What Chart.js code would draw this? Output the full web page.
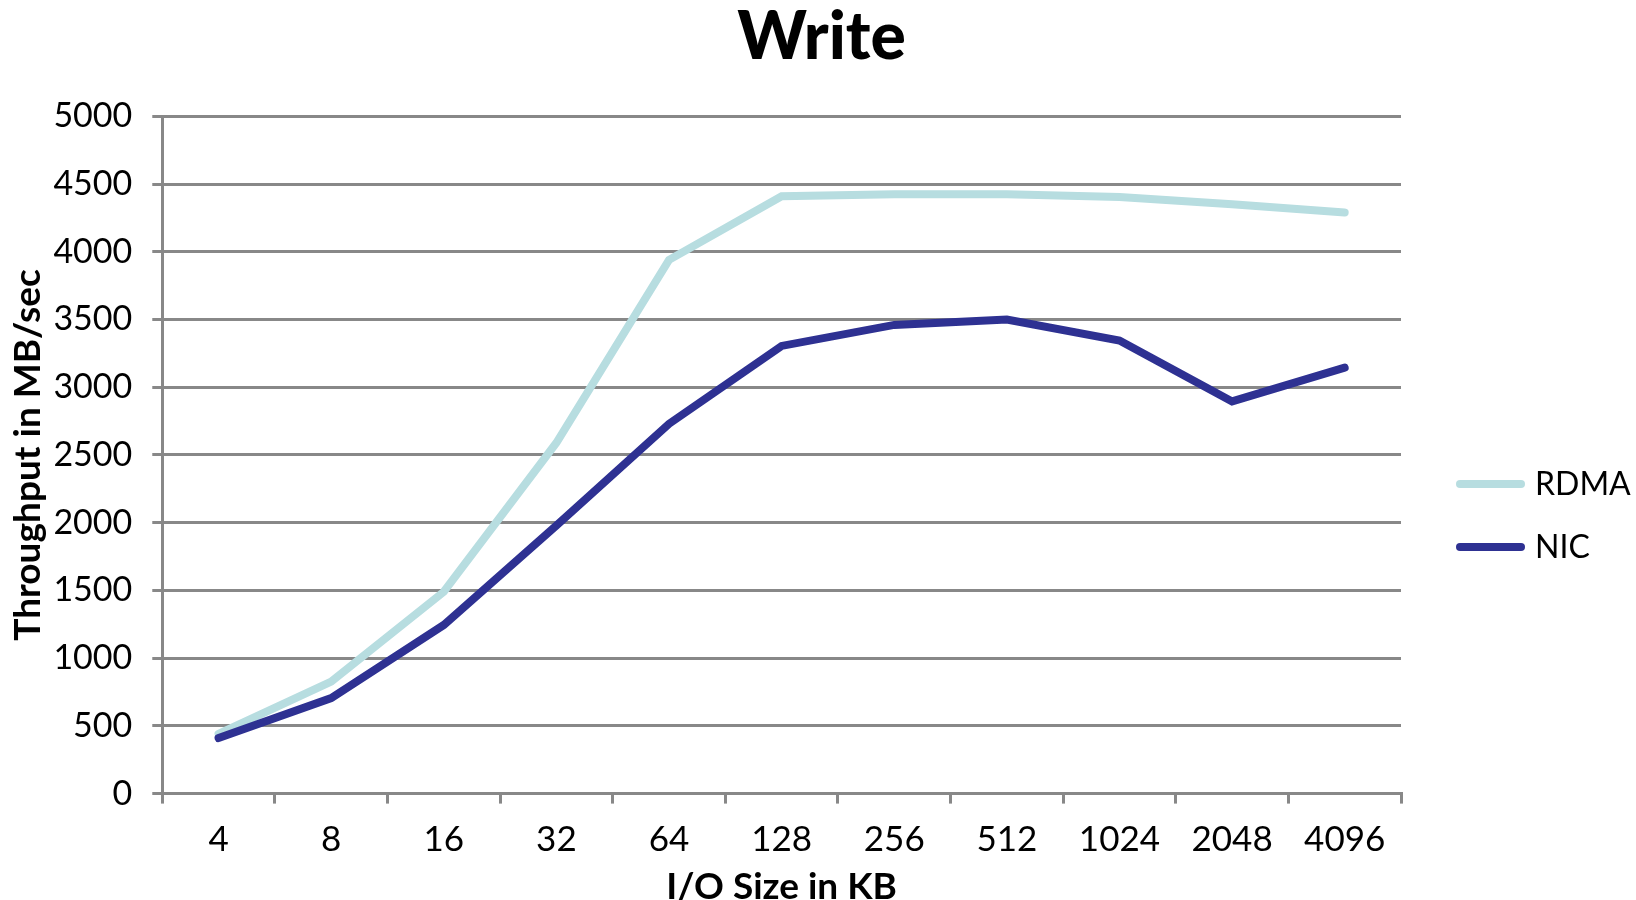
<!DOCTYPE html>
<html>
<head>
<meta charset="utf-8">
<script src="https://cdn.jsdelivr.net/npm/chart.js@4.4.1/dist/chart.umd.min.js"></script>
<style>
  html, body { margin: 0; padding: 0; background: #ffffff; }
  #wrap { width: 1636px; height: 900px; }
</style>
</head>
<body>
<div id="wrap"><canvas id="chart" width="1636" height="900"></canvas></div>
<script>
// I/O sizes (KB) along the x axis
const categories = ['4', '8', '16', '32', '64', '128', '256', '512', '1024', '2048', '4096'];
// Write throughput in MB/sec
const rdmaValues = [440, 827, 1490, 2590, 3940, 4410, 4425, 4425, 4405, 4350, 4290];
const nicValues  = [410, 705, 1245, 1980, 2730, 3305, 3460, 3500, 3345, 2895, 3145];
// Y axis tick values
const yTickValues = [0, 500, 1000, 1500, 2000, 2500, 3000, 3500, 4000, 4500, 5000];

const FONT = 'Lato, "Open Sans", "DejaVu Sans", sans-serif';
const GRID = '#888888';
const LEGEND_WIDTH = 235;

// Legend as its own layout box on the right: a thick line sample followed by the series name
const sideLegend = {
  id: 'sideLegend',
  beforeInit(chart) {
    const box = {
      position: 'right',
      weight: 1000,
      fullSize: false,
      options: {},
      left: 0, top: 0, right: 0, bottom: 0, width: 0, height: 0,
      isHorizontal() { return false; },
      getPadding() { return { left: 0, top: 0, right: 0, bottom: 0 }; },
      update(maxWidth, maxHeight) {
        this.width = LEGEND_WIDTH;
        this.height = maxHeight;
      },
      draw() {
        const ctx = chart.ctx;
        const x0 = this.left + 55;
        const lineLen = 69;
        const rowGap = 63;
        const yStart = (this.top + this.bottom) / 2 + 29;
        ctx.save();
        chart.data.datasets.forEach((ds, i) => {
          const y = yStart + i * rowGap;
          ctx.beginPath();
          ctx.lineCap = 'round';
          ctx.lineWidth = 8;
          ctx.strokeStyle = ds.borderColor;
          ctx.moveTo(x0 + 4, y);
          ctx.lineTo(x0 + lineLen - 4, y);
          ctx.stroke();
          ctx.fillStyle = '#000000';
          ctx.font = '32px ' + FONT;
          ctx.textBaseline = 'middle';
          ctx.textAlign = 'left';
          ctx.fillText(ds.label, x0 + lineLen + 10, y + 1);
        });
        ctx.restore();
      }
    };
    Chart.layouts.addBox(chart, box);
  }
};

new Chart(document.getElementById('chart'), {
  type: 'line',
  data: {
    labels: categories,
    datasets: [
      {
        label: 'RDMA',
        data: rdmaValues,
        borderColor: '#b7dde0',
        backgroundColor: '#b7dde0',
        borderWidth: 8,
        pointRadius: 0,
        tension: 0,
        borderCapStyle: 'round',
        order: 1
      },
      {
        label: 'NIC',
        data: nicValues,
        borderColor: '#2e3192',
        backgroundColor: '#2e3192',
        borderWidth: 8,
        pointRadius: 0,
        tension: 0,
        borderCapStyle: 'round',
        order: 0
      }
    ]
  },
  options: {
    responsive: false,
    animation: false,
    devicePixelRatio: 1,
    layout: { padding: { left: 7, right: 0, top: 0, bottom: -9 } },
    plugins: {
      legend: { display: false },
      tooltip: { enabled: false },
      title: {
        display: true,
        text: 'Write',
        color: '#000000',
        font: { family: FONT, size: 66, weight: 900, lineHeight: 1.05 },
        padding: { top: 3, bottom: 44 }
      }
    },
    scales: {
      x: {
        offset: true,
        grid: {
          display: true,
          offset: true,
          drawOnChartArea: false,
          drawTicks: true,
          tickLength: 10,
          color: GRID,
          lineWidth: 3
        },
        border: { display: true, color: GRID, width: 3 },
        ticks: {
          color: '#000000',
          padding: 15,
          maxRotation: 0,
          font: { family: FONT, size: 35 }
        },
        title: {
          display: true,
          text: 'I/O Size in KB',
          color: '#000000',
          font: { family: FONT, size: 37, weight: 'bold', lineHeight: 1.2 },
          padding: { top: -11, bottom: 0 }
        }
      },
      y: {
        min: 0,
        max: 5000,
        afterBuildTicks(scale) {
          scale.ticks = yTickValues.map(v => ({ value: v }));
        },
        grid: {
          display: true,
          drawTicks: true,
          tickLength: 10,
          color: GRID,
          lineWidth: 3
        },
        border: { display: true, color: GRID, width: 3 },
        ticks: {
          color: '#000000',
          padding: 20,
          font: { family: FONT, size: 34 },
          callback: (value) => String(value)
        },
        title: {
          display: true,
          text: 'Throughput in MB/sec',
          color: '#000000',
          font: { family: FONT, size: 37, weight: 'bold', lineHeight: 1.2 },
          padding: { top: -1, bottom: -17 }
        }
      }
    }
  },
  plugins: [sideLegend]
});
</script>
</body>
</html>
